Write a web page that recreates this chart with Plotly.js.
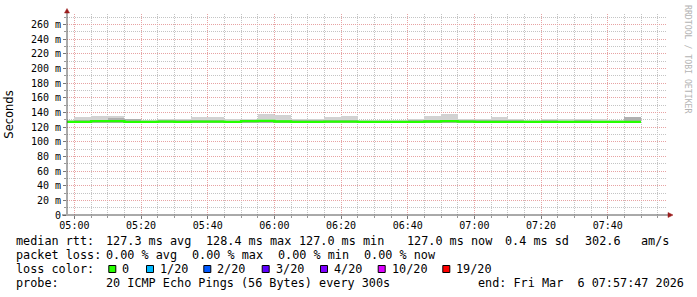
<!DOCTYPE html>
<html><head><meta charset="utf-8">
<script src="https://cdn.plot.ly/plotly-3.0.1.min.js"></script>
<style>html,body{margin:0;padding:0;background:#fff;}#chart{width:697px;height:297px;}</style>
</head><body><div id="chart"></div>
<script>
// ---- data (interval end times, 300 s steps) ----
const intervalEnds = [
 '2026-03-06 05:00:00','2026-03-06 05:05:00','2026-03-06 05:10:00','2026-03-06 05:15:00','2026-03-06 05:20:00',
 '2026-03-06 05:25:00','2026-03-06 05:30:00','2026-03-06 05:35:00','2026-03-06 05:40:00','2026-03-06 05:45:00',
 '2026-03-06 05:50:00','2026-03-06 05:55:00','2026-03-06 06:00:00','2026-03-06 06:05:00','2026-03-06 06:10:00',
 '2026-03-06 06:15:00','2026-03-06 06:20:00','2026-03-06 06:25:00','2026-03-06 06:30:00','2026-03-06 06:35:00',
 '2026-03-06 06:40:00','2026-03-06 06:45:00','2026-03-06 06:50:00','2026-03-06 06:55:00','2026-03-06 07:00:00',
 '2026-03-06 07:05:00','2026-03-06 07:10:00','2026-03-06 07:15:00','2026-03-06 07:20:00','2026-03-06 07:25:00',
 '2026-03-06 07:30:00','2026-03-06 07:35:00','2026-03-06 07:40:00','2026-03-06 07:45:00','2026-03-06 07:50:00'
];
// median RTT (ms)
const medianRtt = [127.1,127.2,128.2,128.0,127.2,127.0,127.3,127.2,127.5,127.3,
                   127.1,128.0,128.4,127.6,127.2,127.1,127.3,127.4,127.0,127.0,
                   127.1,127.2,127.6,128.2,127.4,127.1,127.2,127.1,127.0,127.1,
                   127.0,127.1,127.0,127.0,127.0];
// smoke: lowest ping, inner (dense) top, highest ping (ms)
const smokeLow   = [125.9,126.0,126.1,126.0,126.0,125.9,126.0,126.0,126.0,126.0,
                    125.9,126.1,126.2,126.0,126.0,125.9,126.0,126.0,125.9,125.9,
                    125.9,126.0,126.0,126.1,126.0,125.9,126.0,125.9,125.9,125.9,
                    125.9,125.9,125.9,125.9,125.9];
const smokeInner = [128.8,129.0,129.8,133.0,131.5,128.8,129.0,129.0,129.5,129.3,
                    128.9,129.5,130.0,129.5,129.2,129.0,129.4,129.5,128.8,128.8,
                    128.9,129.2,129.5,130.0,129.3,129.0,129.3,129.1,128.8,129.0,
                    128.9,129.0,128.9,128.8,133.3];
const smokeHigh  = [130.1,133.3,134.5,134.5,131.5,129.8,131.5,131.0,133.3,133.3,
                    130.5,131.0,137.2,135.8,131.5,131.5,133.3,134.5,130.0,130.0,
                    130.3,131.5,134.5,137.4,131.0,131.0,133.3,131.5,130.0,131.5,
                    131.5,131.5,131.5,130.0,133.3];
// y tick values and labels
const yTickVals   = [0,20,40,60,80,100,120,140,160,180,200,220,240,260];
const yTickLabels = ['0','20 m','40 m','60 m','80 m','100 m','120 m','140 m','160 m','180 m','200 m','220 m','240 m','260 m'];
// legend texts
const medianStats = ['127.3 ms avg','128.4 ms max','127.0 ms min','127.0 ms now','0.4 ms sd','302.6','am/s'];
const lossStats   = ['0.00 % avg','0.00 % max','0.00 % min','0.00 % now'];
const lossLabels  = ['0','1/20','2/20','3/20','4/20','10/20','19/20'];
const lossColors  = ['#26ff00','#00b8ff','#0059ff','#5e00ff','#7e00ff','#dd00ff','#ff0000'];
const probeText   = '20 ICMP Echo Pings (56 Bytes) every 300s';
const endText     = 'end: Fri Mar  6 07:57:47 2026';

// ---- helpers ----
const STEP = 300000;
const toMs = s => new Date(s.replace(' ','T')+'Z').getTime();
const fmt = ms => new Date(ms).toISOString().replace('T',' ').slice(0,19);
const nb = s => s.replace(/ /g,'\u00a0');
const L = 67, T = 14, W = 600, H = 201;
const PX = x => (x - L) / W;
const PY = y => (T + H - y) / H;

const traces = [
  {type:'bar', x:intervalEnds, base:smokeLow, y:smokeHigh.map((v,i)=>v-smokeLow[i]),
   offset:-STEP, width:STEP, marker:{color:'#d2d2d2', line:{width:0}}, hoverinfo:'skip'},
  {type:'bar', x:intervalEnds, base:smokeLow, y:smokeInner.map((v,i)=>v-smokeLow[i]),
   offset:-STEP, width:STEP, marker:{color:'#b0b0b0', line:{width:0}}, hoverinfo:'skip'},
  {type:'scatter', mode:'lines',
   x:[fmt(toMs(intervalEnds[0]) - STEP)].concat(intervalEnds),
   y:[medianRtt[0]].concat(medianRtt),
   line:{shape:'vh', color:'#26ff00', width:2.3}, hoverinfo:'skip'}
];

const mono = 'DejaVu Sans Mono';
const legFont = {family:mono, size:11.8, color:'#000'};
const ann = [];
function txt(x, y, text, font, extra) {
  ann.push(Object.assign({xref:'paper', yref:'paper', x:PX(x), y:PY(y), text:nb(text),
    showarrow:false, xanchor:'left', yanchor:'middle', borderpad:0, font:font}, extra||{}));
}
// line 1
txt(14.6, 241, 'median rtt:', legFont);
[105,205,297.7,406,504.4,584.4,639.6].forEach((x,i)=>txt(x,241,medianStats[i],legFont));
// line 2
txt(14.6, 255, 'packet loss:', legFont);
[105,191,277,362.7].forEach((x,i)=>txt(x,255,lossStats[i],legFont));
// line 3
txt(14.6, 269, 'loss color:', legFont);
const boxX = [108.3,146,203.3,261.7,320,377.7,442.3];
const shapes = [];
boxX.forEach((bx,i)=>{
  shapes.push({type:'rect', xref:'paper', yref:'paper', x0:PX(bx+0.5), x1:PX(bx+7.5), y0:PY(265.5), y1:PY(272.5),
    fillcolor:lossColors[i], line:{color:'#000', width:1}});
  txt(bx+12.8, 269, lossLabels[i], legFont);
});
// line 4
txt(14.6, 283, 'probe:', legFont);
txt(105, 283, probeText, legFont);
txt(476.5, 283, endText, legFont);
// watermark
ann.push({xref:'paper', yref:'paper', x:PX(688), y:PY(59), text:'RRDTOOL / TOBI OETIKER', textangle:90,
  showarrow:false, xanchor:'center', yanchor:'middle', font:{family:mono, size:8.2, color:'#b4b4b4'}});

// axis lines extended to arrows
const arrowCol = '#9b1c1c';
shapes.push({type:'line', xref:'paper', yref:'paper', x0:PX(67), x1:PX(67), y0:PY(214), y1:PY(11), line:{color:'#555', width:1}});
shapes.push({type:'path', xref:'paper', yref:'paper',
  path:`M ${PX(64.5)},${PY(13)} L ${PX(67)},${PY(8.5)} L ${PX(69.5)},${PY(13)} Z`, fillcolor:arrowCol, line:{color:arrowCol, width:0.5}});
shapes.push({type:'line', xref:'paper', yref:'paper', x0:PX(62), x1:PX(669), y0:PY(215), y1:PY(215), line:{color:'#555', width:1}});
shapes.push({type:'path', xref:'paper', yref:'paper',
  path:`M ${PX(668)},${PY(212.5)} L ${PX(673)},${PY(215)} L ${PX(668)},${PY(217.5)} Z`, fillcolor:arrowCol, line:{color:arrowCol, width:0.5}});

const majorGrid = '#e7a3a3', minorGrid = '#c4c4c4', dash = '1px,1px';
const tickFont = {family:mono, size:10, color:'#000'};
const layout = {
  width:697, height:297,
  margin:{l:L, r:697-L-W, t:T, b:297-T-H, pad:0},
  paper_bgcolor:'#fff', plot_bgcolor:'#fff',
  showlegend:false, barmode:'overlay', bargap:0,
  xaxis:{type:'date', range:['2026-03-06 04:57:47','2026-03-06 07:57:47'],
    tickmode:'linear', tick0:'2026-03-06 05:00:00', dtick:1200000, tickformat:'%H:%M',
    showgrid:true, gridcolor:majorGrid, griddash:dash, gridwidth:1,
    ticks:'outside', ticklen:3, tickcolor:'#777', tickfont:tickFont, ticklabelstandoff:-2,
    minor:{tick0:'2026-03-06 05:00:00', dtick:300000, showgrid:true, gridcolor:minorGrid, griddash:dash,
      ticks:'outside', ticklen:2, tickcolor:'#999'},
    showline:false, zeroline:false, automargin:false, fixedrange:true},
  yaxis:{range:[0, 274.3], tickmode:'array', tickvals:yTickVals, ticktext:yTickLabels,
    showgrid:true, gridcolor:majorGrid, griddash:dash, gridwidth:1,
    ticks:'outside', ticklen:3, tickcolor:'#777', tickfont:tickFont,
    minor:{tickmode:'linear', tick0:0, dtick:10, showgrid:true, gridcolor:minorGrid, griddash:dash,
      ticks:'outside', ticklen:2, tickcolor:'#999'},
    title:{text:'Seconds', font:{family:'DejaVu Sans', size:11.5, color:'#000'}, standoff:14},
    showline:false, zeroline:false, automargin:false, fixedrange:true},
  annotations:ann, shapes:shapes
};
Plotly.newPlot('chart', traces, layout, {staticPlot:true, displayModeBar:false});
</script></body></html>
